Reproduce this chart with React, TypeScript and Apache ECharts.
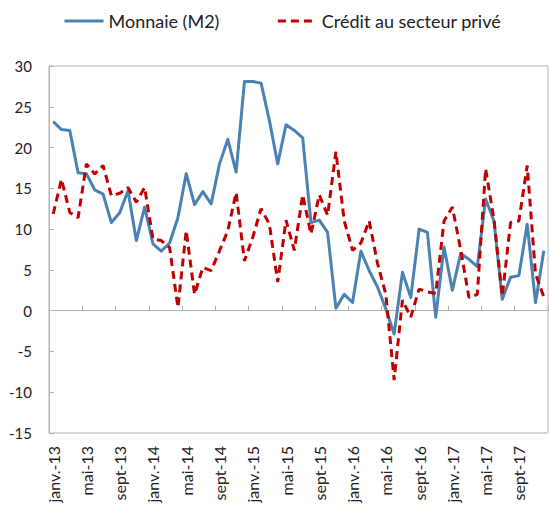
import React, { useEffect, useRef } from "react";
import * as echarts from "echarts";

const monthNames = ["janv.", "févr.", "mars", "avr.", "mai", "juin", "juil.", "août", "sept", "oct.", "nov.", "déc."];
const years = ["13", "14", "15", "16", "17"];
const categories: string[] = years.flatMap((y) => monthNames.map((m) => `${m}-${y}`));

const yTicks = { min: -15, max: 30, interval: 5 };

const monnaieM2 = [
  23.2, 22.2, 22.1, 16.9, 16.8, 14.8, 14.3, 10.8, 12.0, 14.7, 8.6, 12.7,
  8.2, 7.3, 8.3, 11.4, 16.8, 13.0, 14.6, 13.1, 18.0, 21.0, 17.0, 28.1,
  28.1, 27.9, 23.3, 18.0, 22.8, 22.1, 21.2, 10.8, 11.1, 9.6, 0.3, 2.0,
  1.0, 7.3, 4.9, 2.9, 0.2, -2.85, 4.7, 1.6, 10.0, 9.6, -0.8, 7.8,
  2.5, 7.0, 6.3, 5.4, 13.7, 11.0, 1.4, 4.1, 4.3, 10.6, 1.0, 7.35,
];

const creditPrive = [
  11.85, 16.1, 12.05, 11.4, 18.0, 16.75, 17.8, 14.1, 14.4, 15.1, 13.3, 15.1,
  8.8, 8.6, 7.75, 0.4, 9.8, 2.0, 5.3, 4.9, 7.35, 9.8, 14.5, 6.1,
  9.0, 12.5, 10.6, 3.5, 11.1, 7.4, 14.2, 9.4, 14.2, 11.7, 19.5, 11.0,
  7.4, 8.3, 11.0, 5.8, 2.0, -8.5, 1.3, -0.8, 2.65, 2.3, 2.1, 11.0,
  12.7, 7.5, 1.6, 2.0, 17.4, 11.2, 1.8, 10.8, 11.0, 17.8, 4.5, 1.7,
];

const seriesNames = ["Monnaie (M2)", "Crédit au secteur privé"];

export default function App() {
  const ref = useRef<HTMLDivElement>(null);
  useEffect(() => {
    if (!ref.current) return;
    const chart = echarts.init(ref.current, undefined, { renderer: "svg" });
    const font = "Lato, 'Noto Sans', sans-serif";
    const grey = "#B3B3B3";
    chart.setOption({
      animation: false,
      textStyle: { fontFamily: font },
      legend: {
        left: 58,
        top: 7,
        itemWidth: 39,
        itemHeight: 20,
        itemGap: 57,
        itemStyle: { opacity: 0 },
        lineStyle: { width: 3 },
        textStyle: { fontSize: 18, color: "#222", fontFamily: font },
        data: seriesNames,
      },
      grid: {
        left: 49,
        right: 1,
        top: 66,
        bottom: 75,
        show: true,
        borderColor: grey,
        borderWidth: 1,
        containLabel: false,
      },
      xAxis: [
        {
          type: "category",
          data: categories,
          boundaryGap: true,
          position: "bottom",
          axisLine: { show: false, onZero: false },
          axisTick: { show: false },
          axisLabel: {
            interval: 3,
            rotate: 90,
            margin: 13,
            fontSize: 16,
            color: "#222",
            fontFamily: font,
          },
          splitLine: { show: false },
        },
        {
          type: "category",
          data: categories,
          boundaryGap: true,
          position: "bottom",
          axisLine: { show: true, onZero: true, onZeroAxisIndex: 0, lineStyle: { color: grey, width: 1 } },
          axisTick: { show: true, inside: true, interval: 3, length: 5, lineStyle: { color: grey } },
          axisLabel: { show: false },
          splitLine: { show: false },
        },
      ],
      yAxis: {
        type: "value",
        min: yTicks.min,
        max: yTicks.max,
        interval: yTicks.interval,
        axisLine: { show: true, lineStyle: { color: grey } },
        axisTick: { show: true, inside: true, length: 5, lineStyle: { color: grey } },
        axisLabel: { fontSize: 15, color: "#222", margin: 17, fontFamily: font },
        splitLine: { show: false },
      },
      series: [
        {
          name: seriesNames[0],
          type: "line",
          xAxisIndex: 0,
          data: monnaieM2,
          symbol: "none",
          showSymbol: false,
          lineStyle: { color: "#4A82B3", width: 3, join: "round" },
          itemStyle: { color: "#4A82B3" },
          z: 3,
        },
        {
          name: seriesNames[1],
          type: "line",
          xAxisIndex: 0,
          data: creditPrive,
          symbol: "none",
          showSymbol: false,
          lineStyle: { color: "#C00000", width: 3, type: [8, 5] },
          itemStyle: { color: "#C00000" },
          z: 4,
        },
      ],
    });
    return () => chart.dispose();
  }, []);
  return (
    <div
      ref={ref}
      style={{ position: "fixed", left: 0, top: 0, width: 549, height: 508, background: "#fff" }}
    />
  );
}
